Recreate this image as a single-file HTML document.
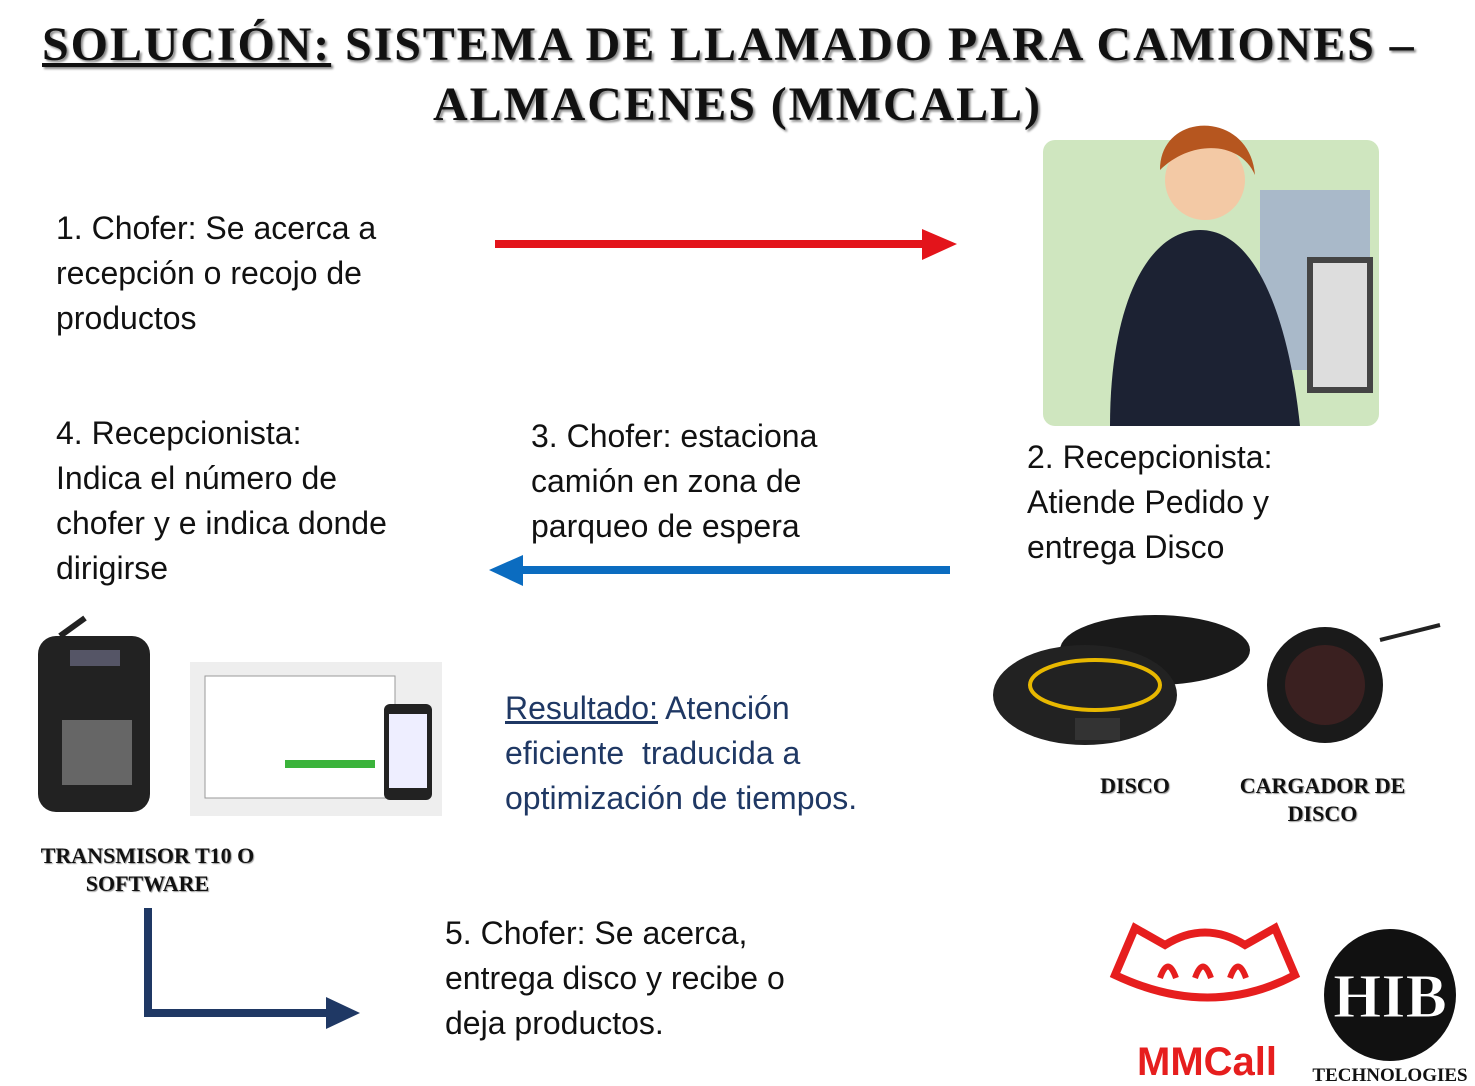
<!DOCTYPE html>
<html><head><meta charset="utf-8"><style>
body{margin:0;width:1475px;height:1086px;background:#fff;position:relative;overflow:hidden;font-family:"Liberation Sans",sans-serif}
.t{position:absolute;font-size:32px;line-height:45px;color:#111;white-space:nowrap}
.h{position:absolute;font-family:"Liberation Serif",serif;font-weight:900;color:#111;text-shadow:2px 2px 2px #888;letter-spacing:1.9px}
.lbl{position:absolute;font-family:"Liberation Serif",serif;font-weight:900;font-size:22px;line-height:28px;text-align:center;color:#111;text-shadow:1px 1px 1px #999}
</style></head><body>
<div class="h" style="left:42px;top:17px;font-size:48px;white-space:nowrap"><u>SOLUCIÓN:</u> SISTEMA DE LLAMADO PARA CAMIONES –</div>
<div class="h" style="left:433px;top:77px;font-size:48px;white-space:nowrap">ALMACENES (MMCALL)</div>

<div class="t" style="left:56px;top:206px">1. Chofer: Se acerca a<br>recepción o recojo de<br>productos</div>
<div class="t" style="left:56px;top:411px">4. Recepcionista:<br>Indica el número de<br>chofer y e indica donde<br>dirigirse</div>
<div class="t" style="left:531px;top:414px">3. Chofer: estaciona<br>camión en zona de<br>parqueo de espera</div>
<div class="t" style="left:1027px;top:435px">2. Recepcionista:<br>Atiende Pedido y<br>entrega Disco</div>
<div class="t" style="left:505px;top:686px;color:#1f3864"><u>Resultado:</u> Atención<br>eficiente&nbsp; traducida a<br>optimización de tiempos.</div>
<div class="t" style="left:445px;top:911px">5. Chofer: Se acerca,<br>entrega disco y recibe o<br>deja productos.</div>

<svg width="1475" height="1086" style="position:absolute;left:0;top:0">
<line x1="495" y1="244" x2="925" y2="244" stroke="#e3141b" stroke-width="8"/>
<polygon points="922,229 957,244 922,260" fill="#e3141b"/>
<line x1="950" y1="570" x2="520" y2="570" stroke="#0b6cc0" stroke-width="8"/>
<polygon points="523,555 489,570 523,586" fill="#0b6cc0"/>
<polyline points="148,908 148,1013 330,1013" fill="none" stroke="#1f3864" stroke-width="8"/>
<polygon points="326,997 360,1013 326,1029" fill="#1f3864"/>
<rect x="1043" y="140" width="336" height="286" rx="12" fill="#cfe6bf"/>
<rect x="1260" y="190" width="110" height="180" fill="#a9b9c9"/>
<path d="M1110 426 C1110 300 1150 230 1200 230 C1260 230 1290 330 1300 426Z" fill="#1c2233"/>
<circle cx="1205" cy="180" r="40" fill="#f3c9a5"/>
<path d="M1160 170 C1160 110 1250 110 1255 175 C1240 140 1190 140 1160 170Z" fill="#b6561f"/>
<rect x="1310" y="260" width="60" height="130" fill="#ddd" stroke="#444" stroke-width="6"/>
<rect x="38" y="636" width="112" height="176" rx="18" fill="#222"/>
<rect x="70" y="650" width="50" height="16" fill="#556"/>
<rect x="62" y="720" width="70" height="65" fill="#666"/>
<line x1="60" y1="636" x2="85" y2="618" stroke="#222" stroke-width="6"/>
<rect x="190" y="662" width="252" height="154" fill="#eee"/>
<rect x="205" y="676" width="190" height="122" fill="#fff" stroke="#999"/>
<rect x="285" y="760" width="90" height="8" fill="#3bb33b"/>
<rect x="384" y="704" width="48" height="96" rx="6" fill="#222"/>
<rect x="389" y="714" width="38" height="74" fill="#eef"/>
<ellipse cx="1155" cy="650" rx="95" ry="35" fill="#1a1a1a"/>
<ellipse cx="1085" cy="695" rx="92" ry="50" fill="#222"/>
<ellipse cx="1095" cy="685" rx="65" ry="25" fill="none" stroke="#e8b800" stroke-width="4"/>
<rect x="1075" y="718" width="45" height="22" fill="#333"/>
<circle cx="1325" cy="685" r="58" fill="#1a1a1a"/>
<circle cx="1325" cy="685" r="40" fill="#3a2020"/>
<line x1="1380" y1="640" x2="1440" y2="625" stroke="#222" stroke-width="4"/>
<path d="M1115 975 L1135 928 L1165 945 Q1205 920 1245 945 L1275 928 L1295 975 Q1210 1020 1115 975Z" fill="none" stroke="#e61e1e" stroke-width="8"/>
<path d="M1160 978 Q1168 955 1176 978 M1195 978 Q1203 955 1211 978 M1230 978 Q1238 955 1246 978" fill="none" stroke="#e61e1e" stroke-width="6"/>
<text x="1207" y="1075" text-anchor="middle" font-family="Liberation Sans" font-weight="bold" font-size="40" fill="#e61e1e">MMCall</text>
<circle cx="1390" cy="995" r="66" fill="#111"/>
<text x="1390" y="1017" text-anchor="middle" font-family="Liberation Serif" font-weight="bold" font-size="62" fill="#fff" stroke="#111">HIB</text>
<text x="1390" y="1081" text-anchor="middle" font-family="Liberation Serif" font-weight="bold" font-size="19" fill="#111">TECHNOLOGIES</text>
</svg>
<div class="lbl" style="left:1085px;top:772px;width:100px">DISCO</div>
<div class="lbl" style="left:1230px;top:772px;width:185px">CARGADOR DE DISCO</div>
<div class="lbl" style="left:20px;top:842px;width:255px">TRANSMISOR T10 O SOFTWARE</div>
</body></html>
